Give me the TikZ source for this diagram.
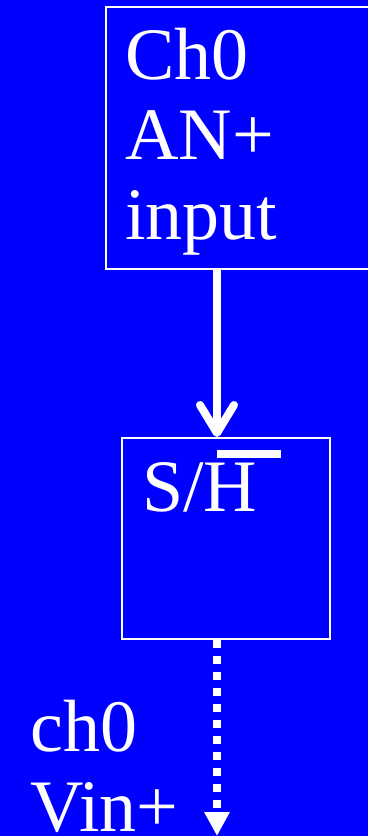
\documentclass[tikz,border=0pt]{standalone}
\usepackage{fontspec}
\setmainfont{Liberation Serif}
\usetikzlibrary{positioning, arrows.meta}

\tikzset{
    block/.style={draw=white, line width=2pt, inner sep=0pt},
    caption/.style={text=white, inner sep=0pt, align=left, font=\fontsize{74}{80}\selectfont},
    feed/.style={white, line width=8pt, -{Straight Barb[round, length=28pt, width=34pt]}},
    held/.style={white, line width=8pt, dash pattern=on 8pt off 8pt, -{Triangle[length=24pt, width=24pt]}}
}

\begin{document}
\begin{tikzpicture}[x=1pt, y=1pt]
    % Background and frame
    \fill[blue] (0,0) rectangle (368,-836);
    \useasboundingbox (0,0) rectangle (368,-836);
    \clip (0,0) rectangle (368,-836);

    % Input block
    \node[block, minimum width=270pt, minimum height=262pt, anchor=north west] (adc) at (105,-6) {};
    \node[caption, anchor=base west] (adctext) at (125,-239) {Ch0\\AN+\\input};

    % Sample and hold block
    \node[block, minimum width=208pt, minimum height=201pt, anchor=north west] (sh) at (121,-437) {};
    \node[caption, anchor=base west] (shtext) at (142,-511) {S/H};
    \fill[white] (217,-450) rectangle (281,-458);

    % Output label
    \node[caption, anchor=base west] (vin) at (30,-831) {ch0\\Vin+};

    % Signal path
    \coordinate (tap) at (217,0);
    \coordinate (out) at (217,-836);
    \draw[feed] (adc.south -| tap) -- (sh.north -| tap);
    \draw[held] (sh.south -| tap) -- (out);
\end{tikzpicture}
\end{document}
